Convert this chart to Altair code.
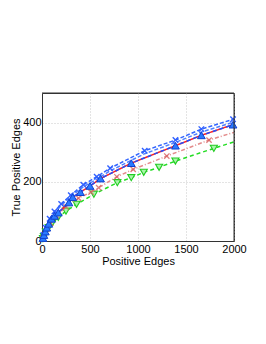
import altair as alt
import pandas as pd

# Series data
blue_x1_x = [0, 15, 40, 80, 130, 200, 300, 430, 570, 710, 1070, 1390, 1660, 1990]
blue_x1_y = [0, 20, 45, 75, 100, 125, 155, 190, 217, 246, 305, 341, 378, 411]

blue_x2_x = [0, 15, 40, 80, 130, 200, 300, 430, 570, 710, 1070, 1390, 1660, 2000]
blue_x2_y = [0, 17, 40, 70, 95, 120, 150, 183, 209, 237, 295, 333, 368, 402]

tri_x = [0, 10, 20, 35, 50, 70, 100, 130, 170, 280, 320, 400, 500, 610, 930, 1390, 1660, 1990]
tri_y = [0, 10, 20, 32, 45, 58, 75, 85, 96, 130, 148, 165, 186, 211, 263, 322, 357, 393]

pink_x = [0, 10, 25, 50, 90, 150, 250, 380, 510, 590, 780, 950, 1300, 1740, 2000]
pink_y = [0, 10, 22, 40, 60, 85, 115, 145, 165, 180, 217, 242, 287, 341, 367]

green_x = [0, 10, 20, 40, 70, 110, 170, 250, 360, 540, 785, 930, 1060, 1220, 1390, 1790, 2000]
green_y = [0, 8, 15, 30, 45, 62, 80, 101, 124, 158, 197, 214, 232, 249, 270, 313, 335]

x_ticks = [0, 500, 1000, 1500, 2000]
y_ticks = [0, 200, 400]

def frame(xs, ys):
    return pd.DataFrame({"x": xs, "y": ys})

xs = alt.Scale(domain=[0, 2000], nice=False)
ys = alt.Scale(domain=[0, 500], nice=False)

X = alt.X("x:Q", scale=xs, title="Positive Edges",
          axis=alt.Axis(values=x_ticks, format="d"))
Y = alt.Y("y:Q", scale=ys, title="True Positive Edges",
          axis=alt.Axis(values=y_ticks, format="d"))

XSHAPE = "M-1,-1L1,1M-1,1L1,-1"

def line(df, color, dash, width=1.5, opacity=1.0):
    return alt.Chart(df).mark_line(color=color, strokeDash=dash, strokeWidth=width,
                                   opacity=opacity).encode(x=X, y=Y)

def pts(df, shape, color, fill=None, size=30, width=1.2, opacity=1.0):
    kw = dict(shape=shape, size=size, strokeWidth=width, color=color, opacity=opacity)
    if fill is None:
        kw["filled"] = False
    else:
        kw["filled"] = True
        kw["fill"] = fill
        kw["stroke"] = color
    return alt.Chart(df).mark_point(**kw).encode(x=X, y=Y)

b1 = frame(blue_x1_x, blue_x1_y)
b2 = frame(blue_x2_x, blue_x2_y)
tr = frame(tri_x, tri_y)
pk = frame(pink_x, pink_y)
gr = frame(green_x, green_y)

border = alt.Chart(pd.DataFrame({"k": [0]})).mark_rule(color="#333333", strokeWidth=1).encode(
    x=alt.value(192), y=alt.value(0), y2=alt.value(148))
border_top = alt.Chart(pd.DataFrame({"k": [0]})).mark_rule(color="#333333", strokeWidth=1).encode(
    x=alt.value(0), x2=alt.value(192), y=alt.value(0))

layers = [
    line(gr, "#22dd22", [4, 3]),
    pts(gr.iloc[1:-1], "triangle-down", "#22cc22", fill="#aaf5aa", size=50, width=1.1),
    line(pk, "#e08080", [4, 2, 1, 2], opacity=0.9),
    pts(pk.iloc[1:-1], XSHAPE, "#d86060", size=28, width=1.3, opacity=0.8),
    line(b2, "#5080ff", [4, 2]),
    line(b1, "#3366ff", [4, 2]),
    pts(b1.iloc[1:], XSHAPE, "#3060ff", size=30, width=1.4),
    line(tr, "#ff2020", [1, 0], width=1.5),
    line(tr, "#2050ff", [4, 3], width=1.5),
    pts(tr.iloc[1:], "triangle-up", "#1040d0", fill="#2a7aff", size=60, width=1),
    border, border_top,
]

chart = alt.layer(*layers).properties(
    width=192, height=148,
    autosize=alt.AutoSizeParams(type="none"),
    padding={"left": 34, "top": 85, "right": 24, "bottom": 95},
).configure_view(
    stroke="#333333", strokeWidth=1
).configure_axis(
    domainColor="#333333", tickSize=0, labelFont="Liberation Sans",
    titleFont="Liberation Sans", labelFontSize=11, titleFontSize=11,
    labelColor="#000000", titleColor="#000000", titleFontWeight="normal",
    grid=True, gridColor="#c8c8c8", gridDash=[1, 2], gridWidth=1,
).configure_axisX(
    labelPadding=2, titlePadding=1, labelFlush=False
).configure_axisY(
    labelPadding=1, titlePadding=1
)

chart.save("out.html", embed_options={"renderer": "svg", "actions": False})
